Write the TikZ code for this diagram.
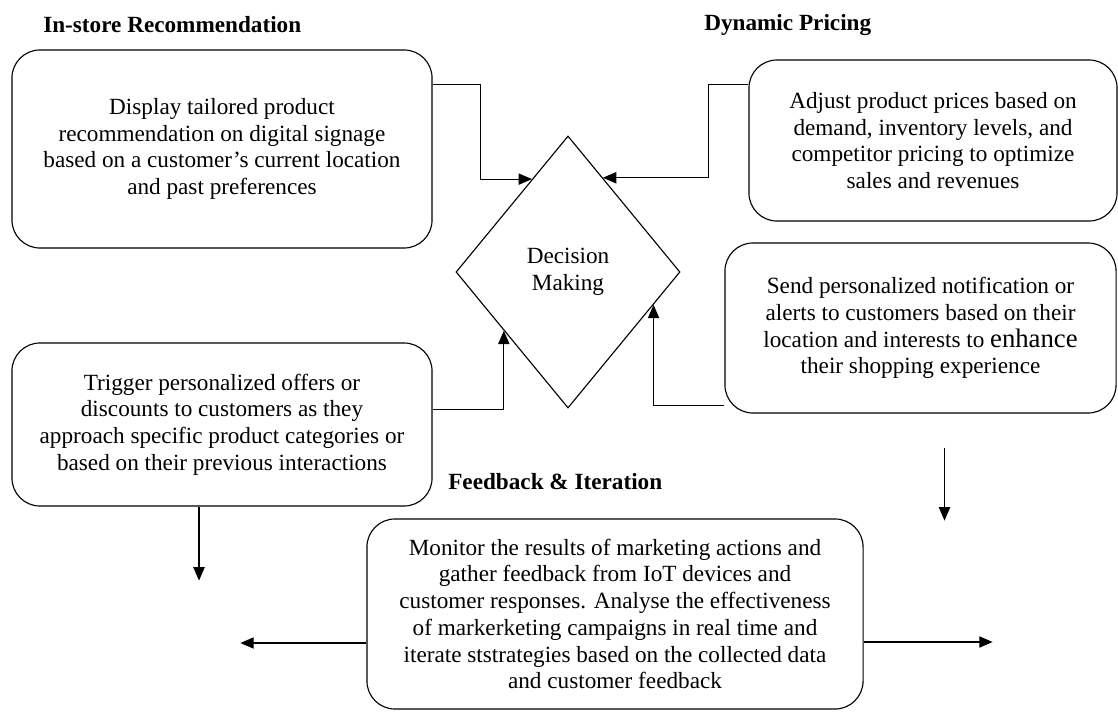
\documentclass[tikz,border=0pt]{standalone}
\usepackage{fontspec}
\setmainfont{Liberation Serif}
\usetikzlibrary{calc}
\usetikzlibrary{positioning}
\usetikzlibrary{shapes.geometric}
\usetikzlibrary{arrows.meta}

\tikzset{
  txtbox/.style={draw,line width=0.8pt,rounded corners=0.7cm,align=center,inner sep=0pt,
    font=\fontsize{16.5}{19}\selectfont},
  headline/.style={anchor=west,inner sep=0pt,font=\fontsize{16.5}{19}\selectfont\bfseries},
  arr/.style={line width=0.8pt,-{Triangle[length=9.5pt,width=8pt]}}
}

\begin{document}
\begin{tikzpicture}[x=0.025cm,y=-0.025cm]
\useasboundingbox (0,0) rectangle (1118,711);

\node[headline] (h1) at (43,25) {In-store Recommendation};
\node[headline] (h2) at (704,25) {Dynamic Pricing};
\node[headline] (h3) at (448,482) {Feedback \& Iteration};

\node[txtbox,minimum width=10.5cm,minimum height=4.95cm] (b1) at (222,149)
  {Display tailored product\\recommendation on digital signage\\based on a customer’s current location\\and past preferences};
\node[txtbox,minimum width=9.2cm,minimum height=4.025cm] (b2) at (933,140.5)
  {Adjust product prices based on\\demand, inventory levels, and\\competitor pricing to optimize\\sales and revenues};
\node[txtbox,minimum width=9.775cm,minimum height=4.25cm] (b3) at (920.5,328)
  {Send personalized notification or\\alerts to customers based on their\\location and interests to {\fontsize{19}{19}\selectfont enhance}\\their shopping experience};
\node[txtbox,minimum width=10.5cm,minimum height=4.075cm] (b4) at (222,424.5)
  {Trigger personalized offers or\\discounts to customers as they\\approach specific product categories or\\based on their previous interactions};
\node[txtbox,minimum width=12.4cm,minimum height=4.75cm] (b5) at (615,614)
  {Monitor the results of marketing actions and\\gather feedback from IoT devices and\\customer responses. Analyse the effectiveness\\of markerketing campaigns in real time and\\iterate ststrategies based on the collected data\\and customer feedback};

\node[draw,diamond,line width=0.8pt,minimum width=5.6cm,minimum height=6.8cm,inner sep=0pt,
  align=center,font=\fontsize{16.5}{19}\selectfont] (dm) at (568,272) {Decision\\Making};

\coordinate (dmNW) at ($(dm.west)!0.68!(dm.north)$);
\coordinate (dmNE) at ($(dm.north)!0.31!(dm.east)$);
\coordinate (dmSE) at ($(dm.east)!0.24!(dm.south)$);
\coordinate (dmSW) at ($(dm.west)!0.43!(dm.south)$);
\coordinate (b1out) at ($(b1.north east)+(0,35)$);
\coordinate (b2out) at ($(b2.north west)+(0,25)$);
\coordinate (b3out) at ($(b3.south west)+(0,-8)$);
\coordinate (b4out) at ($(b4.north east)+(0,67)$);

\draw[arr] (b1out) -- ++(48,0) |- (dmNW);
\draw[arr] (b2out) -- ++(-40,0) |- (dmNE);
\draw[arr] (b3out) -| (dmSE);
\draw[arr] (b4out) -| (dmSW);

\draw[arr] ($(b4.south)+(-23,0)$) -- ++(0,74);
\draw[arr] ($(b3.south)+(24,34)$) -- ++(0,73);
\draw[arr] ($(b5.west)+(0,29)$) -- ++(-126,0);
\draw[arr] ($(b5.east)+(0,28)$) -- ++(129,0);

\end{tikzpicture}
\end{document}
